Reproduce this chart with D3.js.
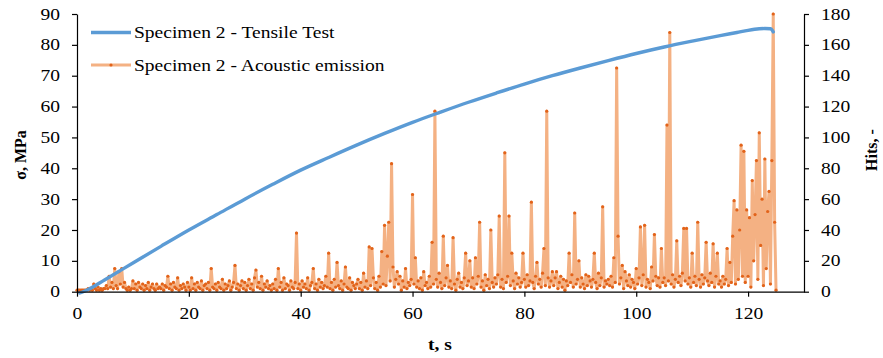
<!DOCTYPE html>
<html><head><meta charset="utf-8">
<script src="https://cdn.jsdelivr.net/npm/d3@7"></script>
<style>
body{margin:0;background:#fff}
text{font-family:"Liberation Serif","Times New Roman",serif;fill:#000}
</style>
</head><body>
<svg id="chart" width="883" height="358"></svg>
<script>
// ---- data ----
const seriesNames = ["Specimen 2 - Tensile Test", "Specimen 2 - Acoustic emission"];
const xTicks = [0, 20, 40, 60, 80, 100, 120];
const stressTicks = [0, 10, 20, 30, 40, 50, 60, 70, 80, 90];
const hitsTicks = [0, 20, 40, 60, 80, 100, 120, 140, 160, 180];
const xLabel = "t, s", leftLabel = "σ, MPa", rightLabel = "Hits, -";

const stressTime = [0.5, 1, 2, 5, 10, 15, 20, 25, 30, 35, 40, 45, 50, 55, 60, 65, 70, 75, 80, 85, 90, 95, 100, 105, 110, 115, 118, 120, 122, 123, 124, 124.5];
const stressValues = [-0.4, -0.1, 0.7, 3.9, 9.3, 14.7, 20.0, 25.0, 30.0, 34.8, 39.4, 43.5, 47.5, 51.3, 54.9, 58.2, 61.4, 64.4, 67.3, 70.0, 72.5, 74.9, 77.2, 79.3, 81.2, 83.0, 84.0, 84.7, 85.2, 85.3, 85.2, 84.2];

const hitsStart = 0, hitsStep = 0.25;
const hits = [
 1,1,1,1,1,1,1,1,2,1,2,1,5,2,1,3,1,2,1,2,
 2,4,2,10,3,6,2,15,4,2,13,5,15,3,6,2,1,3,1,2,
 7,2,5,1,6,3,2,5,1,4,2,6,1,3,5,2,1,5,2,3,
 2,5,1,4,3,10,2,5,1,6,3,2,9,1,4,2,5,3,1,6,
 3,1,9,2,5,1,6,3,2,7,1,4,5,2,6,1,15,3,2,5,
 1,6,3,2,8,1,5,2,4,7,1,3,6,17,2,5,1,4,7,2,
 6,1,4,8,2,5,1,9,14,3,6,2,10,1,5,3,7,2,4,1,
 5,2,8,1,15,3,6,1,9,2,5,4,1,7,3,2,6,38,2,5,
 1,7,3,5,2,9,1,4,6,15,2,5,1,8,3,6,2,4,10,3,
 25,2,6,1,8,3,19,4,2,7,1,5,16,3,2,9,1,6,4,2,
 5,8,2,6,1,12,3,7,2,29,4,28,9,2,6,1,10,3,26,5,
 43,4,23,45,7,83,16,3,8,13,5,10,1,7,3,15,2,6,4,8,
 63,5,22,3,7,2,9,1,13,4,6,2,10,3,32,5,117,8,3,12,
 6,2,36,4,9,17,3,7,2,35,5,1,8,12,3,6,2,9,25,4,
 7,20,3,9,2,22,5,10,45,3,7,1,11,4,8,2,40,6,3,9,
 5,11,49,3,8,2,90,6,10,49,4,25,7,2,12,5,9,3,6,25,
 8,3,11,4,7,58,6,2,10,19,5,8,3,12,28,4,117,9,3,7,
 13,4,9,13,2,6,10,3,8,1,7,4,25,6,11,3,51,5,8,20,
 3,9,5,2,11,4,10,7,3,8,25,6,2,12,4,9,55,3,7,5,
 8,4,10,3,22,6,145,36,5,9,17,2,13,7,4,11,3,8,6,2,
 15,5,9,42,4,11,43,3,8,6,2,16,7,37,10,4,9,3,28,6,
 9,4,108,7,168,5,11,3,8,33,6,10,4,12,41,7,41,5,9,3,
 25,6,10,4,45,8,3,11,5,9,32,7,4,12,6,31,3,10,25,5,
 7,3,10,5,8,28,4,19,6,36,59,5,53,8,40,95,10,91,6,53,
 10,48,3,72,20,50,85,8,103,30,60,4,86,15,52,65,5,85,180,45,
 1
];

// ---- chart ----
const svg = d3.select("#chart");
const x = d3.scaleLinear().domain([0, 130]).range([77, 804]);
const yL = d3.scaleLinear().domain([0, 90]).range([291.7, 14]);
const yR = d3.scaleLinear().domain([0, 180]).range([291.7, 14]);

const blue = "#5B9BD5", orangeLine = "#F4B183", orangeDot = "#E2631A";
const fs = 16, stretch = 1.22;
const serif = '"Liberation Serif","Times New Roman",serif';

const ae = hits.map((h, i) => ({t: hitsStart + i * hitsStep, h}));
const st = stressTime.map((t, i) => ({t, s: stressValues[i]}));

// AE series
svg.append("path").datum(ae)
  .attr("fill", "none").attr("stroke", orangeLine).attr("stroke-width", 3).attr("stroke-linejoin", "round")
  .attr("d", d3.line().x(d => x(d.t)).y(d => yR(d.h)));
svg.append("g").selectAll("circle").data(ae).join("circle")
  .attr("cx", d => x(d.t)).attr("cy", d => yR(d.h)).attr("r", 1.6).attr("fill", orangeDot);

// stress curve
svg.append("path").datum(st)
  .attr("fill", "none").attr("stroke", blue).attr("stroke-width", 3.4).attr("stroke-linecap", "round")
  .attr("d", d3.line().curve(d3.curveMonotoneX).x(d => x(d.t)).y(d => yL(d.s)));

// axes
function styleAxis(g) {
  g.attr("font-family", serif).attr("font-size", fs);
  g.selectAll("path.domain").attr("stroke", "#000").attr("stroke-width", 1.2);
  g.selectAll(".tick line").attr("stroke", "#000").attr("stroke-width", 1.2);
  g.selectAll(".tick text").classed("stretch", true)
    .style("font-family", serif).style("font-size", fs + "px").attr("fill", "#000");
}
svg.append("g").attr("transform", "translate(0,291.7)")
  .call(d3.axisBottom(x).tickValues(xTicks).tickSize(5).tickPadding(11).tickSizeOuter(0))
  .call(styleAxis);
svg.append("g").attr("transform", "translate(77,0)")
  .call(d3.axisLeft(yL).tickValues(stressTicks).tickSize(5).tickPadding(12).tickSizeOuter(0))
  .call(styleAxis);
svg.append("g").attr("transform", "translate(804,0)")
  .call(d3.axisRight(yR).tickValues(hitsTicks).tickSize(5).tickPadding(12).tickSizeOuter(0))
  .call(styleAxis);

// axis titles
svg.append("text").attr("class", "stretch").attr("x", 440).attr("y", 350).attr("text-anchor", "middle")
  .style("font-size", fs + "px").style("font-weight", "bold").text(xLabel);
svg.append("text").attr("transform", "translate(26,155) rotate(-90)").attr("text-anchor", "middle")
  .style("font-size", fs + "px").style("font-weight", "bold").text(leftLabel);
svg.append("text").attr("transform", "translate(877,150) rotate(-90)").attr("text-anchor", "middle")
  .style("font-size", fs + "px").style("font-weight", "bold").text(rightLabel);

// legend
const lg = svg.append("g");
const legendY = [32.5, 65];
lg.append("line").attr("x1", 91).attr("x2", 131).attr("y1", legendY[0]).attr("y2", legendY[0])
  .attr("stroke", blue).attr("stroke-width", 3.4);
lg.append("line").attr("x1", 91).attr("x2", 131).attr("y1", legendY[1]).attr("y2", legendY[1])
  .attr("stroke", orangeLine).attr("stroke-width", 3);
lg.append("circle").attr("cx", 111).attr("cy", legendY[1]).attr("r", 1.6).attr("fill", orangeDot);
seriesNames.forEach((n, i) => {
  lg.append("text").attr("class", "stretch").attr("x", 134).attr("y", legendY[i]).attr("dy", "0.35em")
    .style("font-size", fs + "px").text(n);
});

// horizontal widening of text to match the reference's proportions
svg.selectAll("text.stretch").each(function () {
  const L = this.getComputedTextLength();
  this.setAttribute("textLength", (L * stretch).toFixed(1));
  this.setAttribute("lengthAdjust", "spacingAndGlyphs");
});
</script>
</body></html>
